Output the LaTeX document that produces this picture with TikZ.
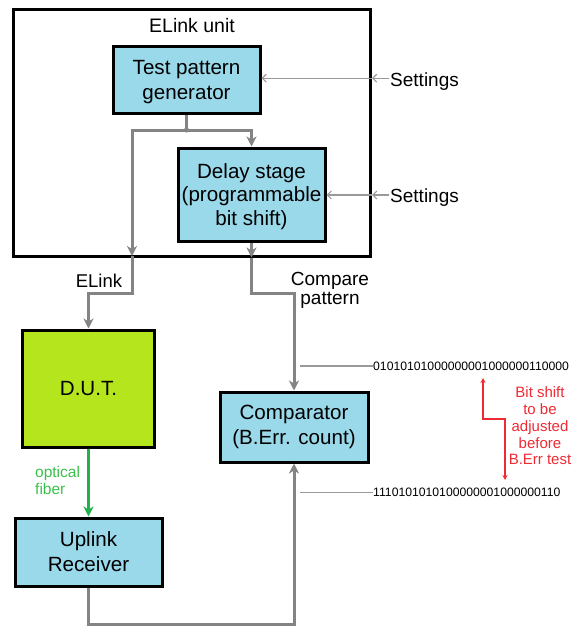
\documentclass[tikz,border=0pt]{standalone}
\usepackage{fontspec}
\setmainfont{Liberation Sans}
\usetikzlibrary{arrows.meta}
\definecolor{boxblue}{HTML}{99D9EA}
\definecolor{dutgreen}{HTML}{B5E61D}
\definecolor{fibergreen}{HTML}{22B14C}
\definecolor{fibertext}{HTML}{3CC04C}
\definecolor{linkgray}{HTML}{848484}
\definecolor{hairgray}{HTML}{999999}
\definecolor{notered}{HTML}{EE2A33}
\begin{document}
\begin{tikzpicture}[x=1pt,y=-1pt,
  block/.style={draw=black, line width=3pt, fill=boxblue, inner sep=0pt,
    align=center, font=\fontsize{20.6}{25}\selectfont},
  lbl/.style={inner sep=0pt, align=center, font=\fontsize{18.5}{19}\selectfont},
  settinglbl/.style={inner sep=0pt, anchor=base west, font=\fontsize{19}{22}\selectfont},
  link/.style={draw=linkgray, line width=3pt,
    -{Stealth[length=10pt,width=10pt,inset=3pt]}},
  plainlink/.style={draw=linkgray, line width=3pt},
  settingarrow/.style={draw=hairgray, line width=1.1pt,
    -{Straight Barb[length=4pt,width=8pt]}},
  hairline/.style={draw=hairgray, line width=1.1pt},
  bits/.style={inner sep=0pt, anchor=west, font=\fontsize{12.2}{14}\selectfont},
]
\useasboundingbox (0,0) rectangle (572,626);

% ELink unit frame
\node[draw=black, line width=3pt, minimum width=357pt, minimum height=246pt,
  inner sep=0pt] (unit) at (192,133) {};
\node[inner sep=0pt, anchor=base, font=\fontsize{19.5}{22}\selectfont]
  (unittitle) at (192,32.5) {ELink unit};

% blocks
\node[block, minimum width=147pt, minimum height=67pt, text depth=-2pt] (tpg)
  at (186.5,80) {Test pattern\\generator};
\node[block, minimum width=147pt, minimum height=93pt, text depth=-5pt,
  font=\fontsize{20.6}{23.5}\selectfont] (delay) at (251.5,194.5)
  {Delay stage\\(programmable\\bit shift)};
\node[block, fill=dutgreen, minimum width=132pt, minimum height=117pt] (dut)
  at (88.5,388.5) {D.U.T.};
\node[block, minimum width=147pt, minimum height=68pt] (uplink) at (88.5,552)
  {Uplink\\Receiver};
\node[block, minimum width=148pt, minimum height=70pt] (cmp) at (294,427)
  {Comparator\\(B.Err. count)};

% settings inputs
\node[settinglbl] (set1) at (390,86.5) {Settings};
\node[settinglbl] (set2) at (390,202.5) {Settings};
\coordinate (s1) at ([xshift=-1pt,yshift=8.3pt]set1.base west);
\coordinate (s2) at ([xshift=-1pt,yshift=7.5pt]set2.base west);
\coordinate (b1) at (unit.east |- s1);
\coordinate (b2) at (unit.east |- s2);
\draw[settingarrow] (s1) -- (b1);
\draw[settingarrow] (b1) -- (tpg.east |- b1);
\draw[settingarrow] (s2) -- (b2);
\draw[settingarrow] (b2) -- (delay.east |- b2);

% pattern distribution
\coordinate (junc) at (tpg.south |- 0,130);
\coordinate (elinkout) at (132,256);
\coordinate (cmpout) at (delay.south |- unit.south);
\coordinate (bendA) at (132,293);
\coordinate (bendB) at (delay.south |- bendA);
\coordinate (bendC) at (uplink.south |- 0,624);
\draw[plainlink] (tpg.south) -- (junc);
\draw[link] (junc) -| (elinkout);
\draw[link] (junc) -| (delay.north);
\fill[linkgray] (junc) circle (2.6pt);
\draw[link] (elinkout) |- (bendA) -| (dut.north);
\draw[link] (delay.south) -- (cmpout);
\draw[link] (cmpout) -- (bendB) -| (cmp.north);
\draw[link] (uplink.south) -- (bendC) -| (cmp.south);

\node[lbl] (elinklbl) at (99,281) {ELink};
\node[lbl, font=\fontsize{19}{19}\selectfont] (cmplbl) at (330,290.5) {Compare\\pattern};

% optical fiber
\draw[draw=fibergreen, line width=3pt,
  -{Stealth[length=10pt,width=10pt,inset=3pt]}] (dut.south) -- (uplink.north);
\node[inner sep=0pt, anchor=west, align=left, text=fibertext,
  font=\fontsize{15.5}{17}\selectfont] (fiberlbl) at (35,480.5) {optical\\fiber};

% bit patterns
\node[bits] (pat1) at (373,366) {01010101000000001000000110000};
\node[bits] (pat2) at (373,492.5) {1110101010100000001000000110};
\coordinate (p1start) at (300,366);
\coordinate (p2start) at (300,492.5);
\draw[hairline] (p1start) -- (pat1.west);
\draw[hairline] (p2start) -- (pat2.west);

% bit shift note
\coordinate (rtop) at (483,378);
\coordinate (rknee) at (494,419);
\coordinate (rbot) at (505,480);
\draw[draw=notered, line width=1.1pt,
  {Stealth[length=5pt,width=5pt]}-{Stealth[length=5pt,width=5pt]}]
  (rtop) |- (rknee) -| (rbot);
\node[inner sep=0pt, align=center, text=notered,
  font=\fontsize{15}{16.8}\selectfont] (note) at (540,426)
  {Bit shift\\to be\\adjusted\\before\\B.Err test};
\end{tikzpicture}
\end{document}
